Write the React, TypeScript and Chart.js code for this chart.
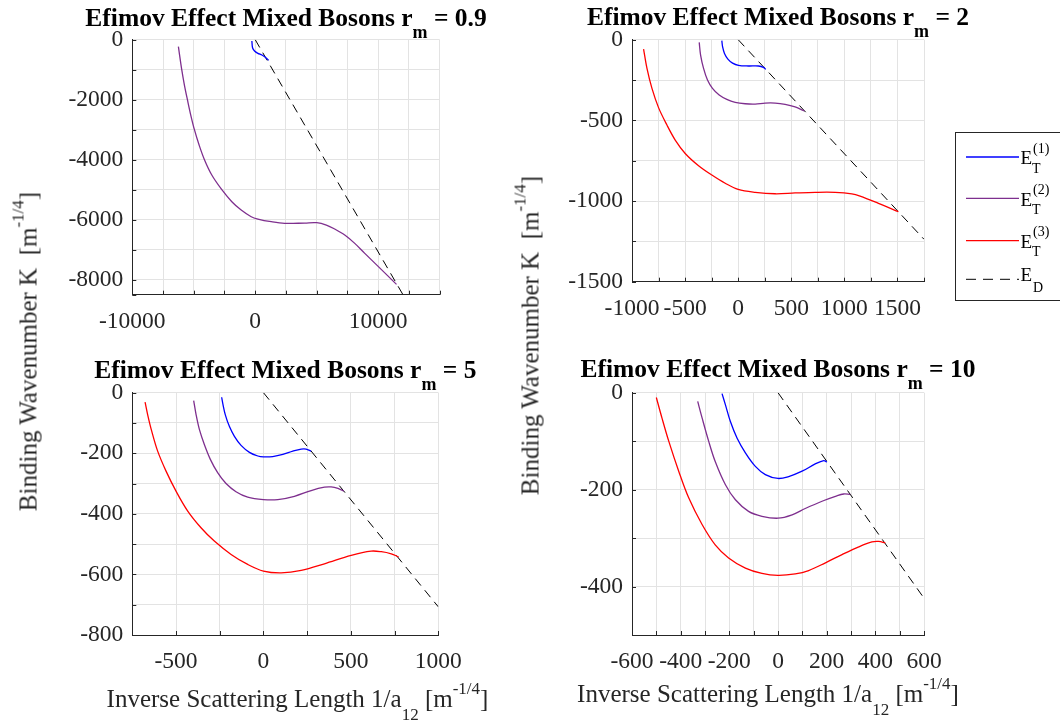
import React, { useEffect, useRef } from "react";
import { Chart, registerables } from "chart.js";

Chart.register(...registerables);

const FONT = "'Liberation Serif', 'Times New Roman', serif";
const BLUE = "#0000ff";
const PURPLE = "#7e2f8e";
const RED = "#ff0000";
const BLACK = "#000000";

// ---------- r_m = 0.9 ----------
const rm09E1X = [-272, -217, -54, 217, 543, 870, 1087];
const rm09E1Y = [-44, -267, -378, -456, -511, -600, -689];
const rm09E2X = [-6250, -5978, -5761, -5516, -5245, -4946, -4565, -4130, -3533, -2717, -1902, -1141, -326, 217, 1304, 2391, 4022, 5000, 5788, 6467, 7283, 8098, 8913, 10000, 11495];
const rm09E2Y = [-233, -1000, -1511, -2000, -2511, -3000, -3511, -4000, -4511, -5000, -5400, -5678, -5900, -5978, -6067, -6122, -6111, -6100, -6178, -6311, -6511, -6789, -7122, -7556, -8156];
const rm09EDX = [0, 12020];
const rm09EDY = [0, -8500];
const rm09XTicks = [-10000, -7500, -5000, -2500, 0, 2500, 5000, 7500, 10000, 12500, 15000];
const rm09XLabels = [-10000, 0, 10000];
const rm09YTicks = [-8500, -8000, -7000, -6000, -5000, -4000, -3000, -2000, -1000, 0];
const rm09YLabels = [-8000, -6000, -4000, -2000, 0];

// ---------- r_m = 2 ----------
const rm2E1X = [-154, -147, -129, -97, -53, 3, 97, 191, 238, 260];
const rm2E1Y = [-6, -43, -85, -120, -145, -159, -163, -163, -171, -184];
const rm2E2X = [-367, -354, -326, -289, -242, -179, -107, -28, 66, 160, 254, 348, 442, 536, 624];
const rm2E2Y = [-17, -95, -178, -250, -302, -343, -370, -388, -397, -399, -393, -393, -401, -417, -442];
const rm2E3X = [-891, -859, -812, -750, -671, -593, -499, -373, -248, -122, 0, 160, 348, 536, 725, 913, 1070, 1148, 1321, 1509];
const rm2E3Y = [-58, -178, -302, -421, -529, -622, -705, -781, -839, -890, -928, -946, -955, -950, -946, -946, -955, -969, -1014, -1066];
const rm2EDX = [0, 1750];
const rm2EDY = [0, -1237];
const rm2XTicks = [-1000, -750, -500, -250, 0, 250, 500, 750, 1000, 1250, 1500, 1750];
const rm2XLabels = [-1000, -500, 0, 500, 1000, 1500];
const rm2YTicks = [-1500, -1250, -1000, -750, -500, -250, 0];
const rm2YLabels = [-1500, -1000, -500, 0];

// ---------- r_m = 5 ----------
const rm5E1X = [-239, -231, -218, -195, -166, -128, -80, -32, 0, 53, 111, 168, 216, 244, 273];
const rm5E1Y = [-15, -40, -73, -111, -144, -174, -197, -209, -212, -211, -204, -193, -186, -186, -193];
const rm5E2X = [-399, -385, -366, -338, -303, -261, -214, -157, -90, 0, 82, 177, 273, 349, 387, 426, 460];
const rm5E2Y = [-26, -73, -122, -171, -221, -265, -300, -327, -345, -353, -353, -342, -323, -312, -311, -316, -325];
const rm5E3X = [-677, -662, -639, -605, -557, -500, -433, -357, -281, -185, -90, 0, 101, 216, 349, 502, 616, 674, 731, 773];
const rm5E3Y = [-31, -73, -127, -193, -259, -325, -391, -446, -490, -534, -567, -589, -595, -587, -565, -537, -523, -525, -532, -542];
const rm5EDX = [0, 1000];
const rm5EDY = [0, -707];
const rm5XTicks = [-750, -500, -250, 0, 250, 500, 750, 1000];
const rm5XLabels = [-500, 0, 500, 1000];
const rm5YTicks = [-800, -700, -600, -500, -400, -300, -200, -100, 0];
const rm5YLabels = [-800, -600, -400, -200, 0];

// ---------- r_m = 10 ----------
const rm10E1X = [-230, -216, -196, -168, -134, -93, -52, 0, 44, 99, 153, 188, 201];
const rm10E1Y = [-2, -25, -59, -94, -124, -152, -169, -177, -173, -162, -147, -140, -143];
const rm10E2X = [-330, -312, -285, -258, -216, -175, -121, -66, 0, 58, 112, 181, 236, 270, 297];
const rm10E2Y = [-18, -52, -100, -142, -190, -221, -245, -255, -259, -252, -239, -224, -214, -209, -210];
const rm10E3X = [-500, -477, -449, -408, -367, -312, -258, -203, -134, -66, 0, 71, 126, 195, 263, 332, 386, 414, 441];
const rm10E3Y = [-10, -52, -100, -162, -217, -272, -314, -341, -362, -373, -377, -374, -367, -351, -334, -318, -308, -307, -310];
const rm10EDX = [0, 600];
const rm10EDY = [0, -424];
const rm10XTicks = [-600, -500, -400, -300, -200, -100, 0, 100, 200, 300, 400, 500, 600];
const rm10XLabels = [-600, -400, -200, 0, 200, 400, 600];
const rm10YTicks = [-500, -400, -300, -200, -100, 0];
const rm10YLabels = [-400, -200, 0];

type Series = { xs: number[]; ys: number[]; color: string; dash?: number[] };
type Panel = {
  box: [number, number, number, number];
  area: [number, number, number, number];
  xMin: number; xMax: number; yMin: number; yMax: number;
  xTicks: number[]; xLabels: number[]; yTicks: number[]; yLabels: number[];
  series: Series[];
};

const DASH = [9, 6];

const panels: Panel[] = [
  {
    box: [0, 0, 530, 345], area: [132.3, 39.7, 439.6, 294.7],
    xMin: -10000, xMax: 15000, yMin: -8500, yMax: 0,
    xTicks: rm09XTicks, xLabels: rm09XLabels, yTicks: rm09YTicks, yLabels: rm09YLabels,
    series: [
      { xs: rm09E1X, ys: rm09E1Y, color: BLUE },
      { xs: rm09E2X, ys: rm09E2Y, color: PURPLE },
      { xs: rm09EDX, ys: rm09EDY, color: BLACK, dash: DASH },
    ],
  },
  {
    box: [530, 0, 420, 345], area: [632, 39.7, 924, 281.7],
    xMin: -1000, xMax: 1750, yMin: -1500, yMax: 0,
    xTicks: rm2XTicks, xLabels: rm2XLabels, yTicks: rm2YTicks, yLabels: rm2YLabels,
    series: [
      { xs: rm2E1X, ys: rm2E1Y, color: BLUE },
      { xs: rm2E2X, ys: rm2E2Y, color: PURPLE },
      { xs: rm2E3X, ys: rm2E3Y, color: RED },
      { xs: rm2EDX, ys: rm2EDY, color: BLACK, dash: DASH },
    ],
  },
  {
    box: [0, 345, 530, 379], area: [132.3, 392.7, 438.3, 635],
    xMin: -750, xMax: 1000, yMin: -800, yMax: 0,
    xTicks: rm5XTicks, xLabels: rm5XLabels, yTicks: rm5YTicks, yLabels: rm5YLabels,
    series: [
      { xs: rm5E1X, ys: rm5E1Y, color: BLUE },
      { xs: rm5E2X, ys: rm5E2Y, color: PURPLE },
      { xs: rm5E3X, ys: rm5E3Y, color: RED },
      { xs: rm5EDX, ys: rm5EDY, color: BLACK, dash: DASH },
    ],
  },
  {
    box: [530, 345, 430, 379], area: [632, 392.7, 924, 635],
    xMin: -600, xMax: 600, yMin: -500, yMax: 0,
    xTicks: rm10XTicks, xLabels: rm10XLabels, yTicks: rm10YTicks, yLabels: rm10YLabels,
    series: [
      { xs: rm10E1X, ys: rm10E1Y, color: BLUE },
      { xs: rm10E2X, ys: rm10E2Y, color: PURPLE },
      { xs: rm10E3X, ys: rm10E3Y, color: RED },
      { xs: rm10EDX, ys: rm10EDY, color: BLACK, dash: DASH },
    ],
  },
];

const innerTicks = {
  id: "innerTicks",
  beforeDatasetsDraw(chart: any) {
    const { ctx, chartArea: a, scales } = chart;
    const x = scales.x;
    const y = scales.y;
    ctx.save();
    ctx.strokeStyle = "#262626";
    ctx.lineWidth = 1;
    ctx.beginPath();
    for (const t of x.ticks) {
      const px = Math.round(x.getPixelForValue(t.value)) + 0.5;
      ctx.moveTo(px, a.bottom);
      ctx.lineTo(px, a.bottom - 4);
    }
    for (const t of y.ticks) {
      const py = Math.round(y.getPixelForValue(t.value)) + 0.5;
      ctx.moveTo(a.left, py);
      ctx.lineTo(a.left + 4, py);
    }
    ctx.stroke();
    ctx.restore();
  },
};

function PanelChart({ p }: { p: Panel }) {
  const ref = useRef<HTMLCanvasElement>(null);
  useEffect(() => {
    const [bl, bt, bw, bh] = p.box;
    const [al, at, ar, ab] = p.area;
    const tickFont = { family: FONT, size: 23.5 };
    const chart = new Chart(ref.current as HTMLCanvasElement, {
      type: "scatter",
      data: {
        datasets: p.series.map((s) => ({
          data: s.xs.map((x, i) => ({ x, y: s.ys[i] })),
          showLine: true,
          borderColor: s.color,
          backgroundColor: s.color,
          borderWidth: s.dash ? 1 : 1.3,
          borderDash: s.dash ?? [],
          pointRadius: 0,
          pointHoverRadius: 0,
          pointHitRadius: 0,
          tension: s.dash ? 0 : 0.35,
        })) as any,
      },
      options: {
        animation: false,
        responsive: false,
        maintainAspectRatio: false,
        events: [],
        layout: { padding: { left: 0, top: at - bt, right: bl + bw - ar, bottom: 0 } },
        plugins: { legend: { display: false }, tooltip: { enabled: false }, title: { display: false } },
        scales: {
          x: {
            type: "linear",
            min: p.xMin,
            max: p.xMax,
            afterBuildTicks: (s: any) => {
              s.ticks = p.xTicks.map((v) => ({ value: v }));
            },
            afterFit: (s: any) => {
              s.height = bt + bh - ab;
            },
            ticks: {
              autoSkip: false,
              maxRotation: 0,
              minRotation: 0,
              padding: 13,
              color: "#262626",
              font: tickFont,
              callback: (v: any) => (p.xLabels.includes(Number(v)) ? String(v) : ""),
            },
            grid: { color: "#e3e3e3", lineWidth: 1, drawTicks: false },
            border: { display: true, color: "#262626", width: 1 },
          },
          y: {
            type: "linear",
            min: p.yMin,
            max: p.yMax,
            afterBuildTicks: (s: any) => {
              s.ticks = p.yTicks.map((v) => ({ value: v }));
            },
            afterFit: (s: any) => {
              s.width = al - bl;
            },
            ticks: {
              autoSkip: false,
              padding: 9,
              color: "#262626",
              font: tickFont,
              callback: (v: any) => (p.yLabels.includes(Number(v)) ? String(v) : ""),
            },
            grid: { color: "#e3e3e3", lineWidth: 1, drawTicks: false },
            border: { display: true, color: "#262626", width: 1 },
          },
        },
      } as any,
      plugins: [innerTicks],
    });
    return () => chart.destroy();
  }, [p]);
  const [bl, bt, bw, bh] = p.box;
  return (
    <canvas
      ref={ref}
      width={bw}
      height={bh}
      style={{ position: "absolute", left: bl, top: bt, width: bw, height: bh }}
    />
  );
}

const BASE = 0.8375; // baseline offset from top for line-height = font-size

function Title({ cx, base, value }: { cx: number; base: number; value: string }) {
  const size = 25.5;
  return (
    <div
      style={{
        position: "absolute",
        left: cx - 300,
        top: base - BASE * size,
        width: 600,
        textAlign: "center",
        fontSize: size,
        lineHeight: `${size}px`,
        fontWeight: "bold",
        whiteSpace: "pre",
        color: "#000",
      }}
    >
      Efimov Effect Mixed Bosons r
      <span style={{ fontSize: 18, position: "relative", top: 12 }}>m</span>
      {" = " + value}
    </div>
  );
}

function YLabel({ cx, cy }: { cx: number; cy: number }) {
  const size = 25;
  return (
    <div
      style={{
        position: "absolute",
        left: cx - 250,
        top: cy - size / 2,
        width: 500,
        height: size,
        textAlign: "center",
        fontSize: size,
        lineHeight: `${size}px`,
        whiteSpace: "pre",
        color: "#262626",
        transform: "rotate(-90deg)",
      }}
    >
      {"Binding Wavenumber K  [m"}
      <span style={{ fontSize: 17, position: "relative", top: -13 }}>-1/4</span>]
    </div>
  );
}

function XLabel({ cx, base }: { cx: number; base: number }) {
  const size = 25;
  return (
    <div
      style={{
        position: "absolute",
        left: cx - 300,
        top: base - BASE * size,
        width: 600,
        textAlign: "center",
        fontSize: size,
        lineHeight: `${size}px`,
        whiteSpace: "pre",
        color: "#262626",
      }}
    >
      {"Inverse Scattering Length 1/a"}
      <span style={{ fontSize: 17, position: "relative", top: 13 }}>12</span>
      {" [m"}
      <span style={{ fontSize: 17, position: "relative", top: -13 }}>-1/4</span>]
    </div>
  );
}

function Txt({ x, base, size, children }: { x: number; base: number; size: number; children: React.ReactNode }) {
  return (
    <div
      style={{
        position: "absolute",
        left: x,
        top: base - BASE * size,
        fontSize: size,
        lineHeight: `${size}px`,
        whiteSpace: "pre",
        color: "#000",
      }}
    >
      {children}
    </div>
  );
}

const legendNames = ["(1)", "(2)", "(3)"];
const legendColors = [BLUE, PURPLE, RED];

function Legend() {
  const left = 955;
  const top = 132.3;
  const rows = [157, 198.3, 240.7, 279.3];
  return (
    <>
      <div
        style={{
          position: "absolute",
          left,
          top,
          width: 110,
          height: 169,
          boxSizing: "border-box",
          border: "1px solid #262626",
          background: "#fff",
        }}
      />
      <svg style={{ position: "absolute", left: 0, top: 0 }} width={1060} height={724}>
        {legendColors.map((c, i) => (
          <line key={i} x1={966} x2={1019} y1={rows[i]} y2={rows[i]} stroke={c} strokeWidth={1.3} />
        ))}
        <line x1={966} x2={1019} y1={rows[3]} y2={rows[3]} stroke={BLACK} strokeWidth={1} strokeDasharray="10 7" />
      </svg>
      {legendNames.map((n, i) => (
        <React.Fragment key={n}>
          <Txt x={1020.5} base={rows[i] + 7.3} size={19}>E</Txt>
          <Txt x={1033} base={rows[i] - 3.7} size={14}>{n}</Txt>
          <Txt x={1032} base={rows[i] + 16.3} size={14}>T</Txt>
        </React.Fragment>
      ))}
      <Txt x={1020.5} base={281} size={19}>E</Txt>
      <Txt x={1033} base={293} size={14}>D</Txt>
    </>
  );
}

export default function App() {
  return (
    <div
      style={{
        position: "fixed",
        left: 0,
        top: 0,
        width: 1060,
        height: 724,
        background: "#fff",
        overflow: "hidden",
        fontFamily: FONT,
      }}
    >
      {panels.map((p, i) => (
        <PanelChart key={i} p={p} />
      ))}
      <Title cx={286} base={26} value="0.9" />
      <Title cx={778} base={25.5} value="2" />
      <Title cx={285.3} base={378.5} value="5" />
      <Title cx={778} base={377.5} value="10" />
      <YLabel cx={27.8} cy={351.5} />
      <YLabel cx={530.3} cy={335.5} />
      <XLabel cx={297.5} base={707} />
      <XLabel cx={768} base={702} />
      <Legend />
    </div>
  );
}
